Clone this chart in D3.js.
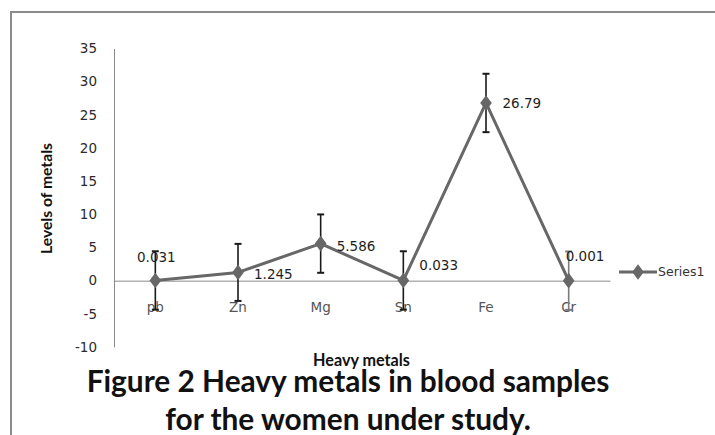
<!DOCTYPE html>
<html>
<head>
<meta charset="utf-8">
<script src="https://cdn.jsdelivr.net/npm/d3@7"></script>
<style>
  html, body { margin: 0; padding: 0; background: #fff; }
  svg { display: block; }
</style>
</head>
<body>
<svg id="chart" width="715" height="435"></svg>
<script>
// ---- data ----
const categories = ["pb", "Zn", "Mg", "Sn", "Fe", "Cr"];
const values = [0.031, 1.245, 5.586, 0.033, 26.79, 0.001];
const errors = [4.4, 4.3, 4.4, 4.4, 4.4, 4.4];
const valueLabels = ["0.031", "1.245", "5.586", "0.033", "26.79", "0.001"];
const yTicks = [-10, -5, 0, 5, 10, 15, 20, 25, 30, 35];
const seriesName = "Series1";
const xTitle = "Heavy metals";
const yTitle = "Levels of metals";
const titleLines = ["Figure 2 Heavy metals in blood samples", "for the women under study."];

// label placement relative to each point (layout only)
const labelPlacement = [
  { anchor: "middle", dx: 1, dy: -23 },
  { anchor: "start", dx: 16, dy: 1.5 },
  { anchor: "start", dx: 16, dy: 3 },
  { anchor: "start", dx: 16, dy: -15.5 },
  { anchor: "start", dx: 16.5, dy: 0 },
  { anchor: "start", dx: -3, dy: -24 }
];

const svg = d3.select("#chart");

// outer frame
svg.append("rect")
  .attr("x", 11).attr("y", 12).attr("width", 720).attr("height", 440)
  .attr("fill", "none").attr("stroke", "#8a8a8a").attr("stroke-width", 2);

const plot = { left: 114, right: 610, top: 48.5, bottom: 347 };

const x = d3.scaleBand().domain(categories).range([plot.left, plot.right]);
const y = d3.scaleLinear().domain([-10, 35]).range([plot.bottom, plot.top]);
const cx = c => x(c) + x.bandwidth() / 2;

// y axis
const yAxis = d3.axisLeft(y).tickValues(yTicks).tickFormat(d => String(d)).tickSize(0).tickPadding(17);
const yg = svg.append("g").attr("transform", `translate(${plot.left},0)`).call(yAxis);
yg.select(".domain").attr("stroke", "#8a8a8a").attr("stroke-width", 1);
yg.selectAll("text")
  .attr("font-family", "DejaVu Sans").attr("font-size", 13.5).attr("fill", "#2b2b2b");

// x axis at zero
const xAxis = d3.axisBottom(x).tickSize(0).tickPadding(22);
const xg = svg.append("g").attr("transform", `translate(0,${y(0)})`).call(xAxis);
xg.select(".domain").attr("stroke", "#8a8a8a").attr("stroke-width", 1);
xg.selectAll("text")
  .attr("font-family", "DejaVu Sans").attr("font-size", 13.5).attr("fill", "#555");

function fitWidth(sel, target) {
  const w = sel.node().getComputedTextLength();
  const fs = parseFloat(sel.attr("font-size"));
  sel.attr("font-size", fs * target / w);
  return fs * target / w;
}

// axis titles
const xt = svg.append("text")
  .attr("x", 361.5).attr("y", 365.5).attr("text-anchor", "middle")
  .attr("font-family", "Lato").attr("font-weight", "bold").attr("font-size", 13)
  .attr("fill", "#111").text(xTitle);
fitWidth(xt, 97);

const yt = svg.append("text")
  .attr("transform", "translate(51.5,198.5) rotate(-90)").attr("text-anchor", "middle")
  .attr("font-family", "Lato").attr("font-weight", "bold").attr("font-size", 13)
  .attr("fill", "#111").text(yTitle);
fitWidth(yt, 111);

// title
const titleY = [392, 429.5];
const t1 = svg.append("text")
  .attr("x", 348).attr("y", titleY[0]).attr("text-anchor", "middle")
  .attr("font-family", "Lato").attr("font-weight", "bold").attr("font-size", 24)
  .attr("fill", "#111").text(titleLines[0]);
const titleSize = fitWidth(t1, 523);
svg.append("text")
  .attr("x", 348).attr("y", titleY[1]).attr("text-anchor", "middle")
  .attr("font-family", "Lato").attr("font-weight", "bold").attr("font-size", titleSize)
  .attr("fill", "#111").text(titleLines[1]);

// error bars
const eg = svg.append("g");
categories.forEach((c, i) => {
  const px = cx(c);
  const top = y(values[i] + errors[i]);
  const bot = y(values[i] - errors[i]);
  const col = i === 5 ? "#7a7a7a" : "#1a1a1a";
  eg.append("line").attr("x1", px).attr("x2", px).attr("y1", top).attr("y2", bot)
    .attr("stroke", col).attr("stroke-width", 1.6);
  [top, bot].forEach(yy => {
    eg.append("line").attr("x1", px - 3.5).attr("x2", px + 3.5).attr("y1", yy).attr("y2", yy)
      .attr("stroke", col).attr("stroke-width", 2);
  });
});

// series line
const lineColor = "#676767";
const line = d3.line().x((d, i) => cx(categories[i])).y(d => y(d));
svg.append("path").datum(values).attr("d", line)
  .attr("fill", "none").attr("stroke", lineColor).attr("stroke-width", 3)
  .attr("stroke-linejoin", "round");

const diamond = d3.symbol().type(d3.symbolDiamond).size(70);
svg.append("g").selectAll("path").data(values).join("path")
  .attr("d", diamond)
  .attr("transform", (d, i) => `translate(${cx(categories[i])},${y(d)}) scale(1.3,1)`)
  .attr("fill", lineColor);

// data labels
svg.append("g").selectAll("text").data(values).join("text")
  .attr("x", (d, i) => cx(categories[i]) + labelPlacement[i].dx)
  .attr("y", (d, i) => y(d) + labelPlacement[i].dy)
  .attr("dy", "0.35em")
  .attr("text-anchor", (d, i) => labelPlacement[i].anchor)
  .attr("font-family", "DejaVu Sans").attr("font-size", 13.5).attr("fill", "#1e1e1e")
  .text((d, i) => valueLabels[i]);

// legend
const lg = svg.append("g").attr("transform", "translate(619,272)");
lg.append("line").attr("x1", 0).attr("x2", 38).attr("y1", 0).attr("y2", 0)
  .attr("stroke", lineColor).attr("stroke-width", 3);
lg.append("path").attr("d", diamond).attr("transform", "translate(19,0) scale(1.3,1)").attr("fill", lineColor);
lg.append("text").attr("x", 39).attr("y", 0).attr("dy", "0.35em")
  .attr("font-family", "DejaVu Sans").attr("font-size", 12.5).attr("fill", "#333")
  .text(seriesName);
</script>
</body>
</html>
